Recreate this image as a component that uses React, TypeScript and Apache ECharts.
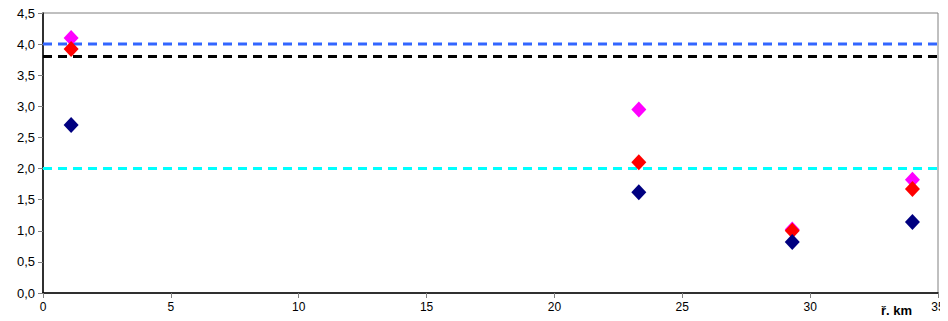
import React, { useEffect, useRef } from "react";
import * as echarts from "echarts";

const kmNavy: number[] = [1.1, 23.3, 29.3, 34.0];
const valNavy: number[] = [2.7, 1.62, 0.82, 1.14];
const kmRed: number[] = [1.1, 23.3, 29.3, 34.0];
const valRed: number[] = [3.92, 2.1, 1.0, 1.67];
const kmMagenta: number[] = [1.1, 23.3, 29.3, 34.0];
const valMagenta: number[] = [4.1, 2.95, 1.02, 1.82];
const limitBlue = 4.0;
const limitBlack = 3.8;
const limitCyan = 2.0;
const xRange: number[] = [0, 35];

const fmt = (v: number) => v.toFixed(1).replace(".", ",");

export default function App() {
  const ref = useRef<HTMLDivElement>(null);
  useEffect(() => {
    if (!ref.current) return;
    const chart = echarts.init(ref.current, null, { renderer: "svg" });
    const pts = (xs: number[], ys: number[]) => xs.map((x, i) => [x, ys[i]]);
    const hline = (y: number, color: string) => ({
      type: "line",
      data: xRange.map((x) => [x, y]),
      symbol: "none",
      lineStyle: { color, width: 3, type: [9, 6], opacity: 1 },
      z: 1,
      silent: true,
    });
    const scat = (xs: number[], ys: number[], color: string, z: number) => ({
      type: "scatter",
      data: pts(xs, ys),
      symbol: "diamond",
      symbolSize: [15, 16],
      itemStyle: { color, opacity: 1 },
      z,
    });
    chart.setOption({
      animation: false,
      grid: {
        left: 43,
        right: 10,
        top: 13,
        bottom: 28,
        show: true,
        borderColor: "#808080",
        borderWidth: 1,
      },
      textStyle: { fontFamily: "Liberation Sans, Arial, sans-serif" },
      xAxis: {
        type: "value",
        min: 0,
        max: 35,
        interval: 5,
        splitLine: { show: false },
        axisLine: { lineStyle: { color: "#000", width: 1.5 } },
        axisTick: { show: true, length: 5, lineStyle: { color: "#808080" } },
        axisLabel: { color: "#000", fontSize: 12, margin: 8 },
      },
      yAxis: {
        type: "value",
        min: 0,
        max: 4.5,
        interval: 0.5,
        splitLine: { show: false },
        axisLine: { show: true, lineStyle: { color: "#000", width: 1.5 } },
        axisTick: { show: true, length: 5, lineStyle: { color: "#808080" } },
        axisLabel: { color: "#000", fontSize: 13, margin: 8, formatter: fmt },
      },
      graphic: [
        {
          type: "text",
          left: 881,
          top: 304,
          style: { text: "ř. km", font: "bold 13px Liberation Sans, Arial, sans-serif", fill: "#000" },
        },
      ],
      series: [
        hline(limitBlue, "#3366FF"),
        hline(limitBlack, "#000000"),
        hline(limitCyan, "#00FFFF"),
        scat(kmMagenta, valMagenta, "#FF00FF", 2),
        scat(kmRed, valRed, "#FF0000", 3),
        scat(kmNavy, valNavy, "#000080", 4),
      ],
    });
    return () => chart.dispose();
  }, []);
  return <div ref={ref} style={{ width: 948, height: 321, margin: "-8px 0 0 -8px" }} />;
}
